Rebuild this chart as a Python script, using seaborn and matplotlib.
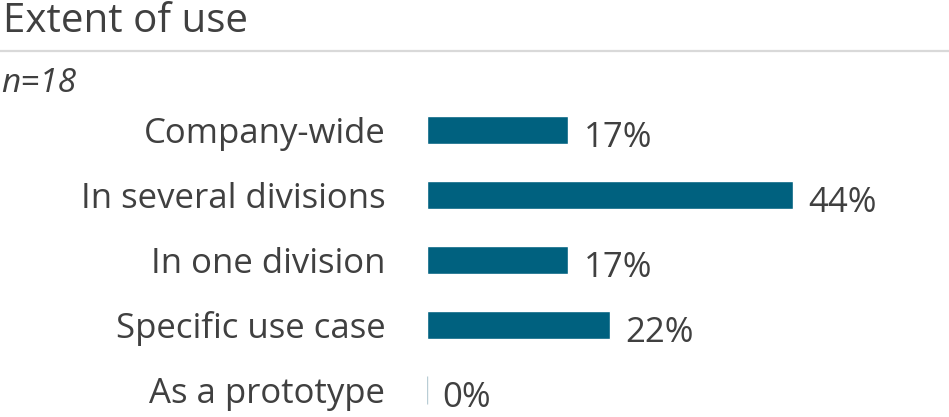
import matplotlib
matplotlib.use("Agg")
import matplotlib.pyplot as plt
import seaborn as sns
import pandas as pd

categories = ["Company-wide", "In several divisions", "In one division",
              "Specific use case", "As a prototype"]
shares = [17, 44, 17, 22, 0]
title = "Extent of use"
note = "n=18"

BAR = "#00617f"
TEXT = "#404040"

sns.set_theme(style="white")
plt.rcParams["font.family"] = ["Open Sans", "DejaVu Sans"]

df = pd.DataFrame({"category": categories, "share": shares})

W, H = 949, 417
fig = plt.figure(figsize=(W / 100, H / 100), dpi=100)
ax = fig.add_axes([427 / W, 0, 513 / W, (417 - 97.5) / H])

sns.barplot(data=df, x="share", y="category", orient="h", color=BAR,
            saturation=1, width=0.43, ax=ax)

# the 0% bar shows only as a faint hairline
for p in ax.patches:
    if p.get_width() == 0:
        p.set_edgecolor("#b9cdd5")
        p.set_linewidth(1.0)

ax.set_xlim(0, 513 / (366 / 44))
ax.set_ylim((417 - 130) / 65, -0.5)
ax.set_xlabel(None)
ax.set_ylabel(None)
ax.set_xticks([])
ax.tick_params(axis="y", length=0, pad=30, labelsize=25, labelcolor=TEXT)
sns.despine(ax=ax, left=True, bottom=True)

for i, v in enumerate(shares):
    ax.annotate(f"{v}%", (v, i), xytext=(11, -6), textcoords="offset points",
                ha="left", va="center", fontsize=25, color=TEXT)

fig.text(3 / W, 1 - 22 / H, title, fontsize=29, color=TEXT, va="center", ha="left")
fig.add_artist(plt.Line2D([0, 1], [1 - 50.5 / H] * 2, color="#d9d9d9", lw=1.6))
fig.text(1 / W, 1 - 83 / H, note, fontsize=24, style="italic", color=TEXT,
         va="center", ha="left")

fig.savefig("out.png", dpi=100)
